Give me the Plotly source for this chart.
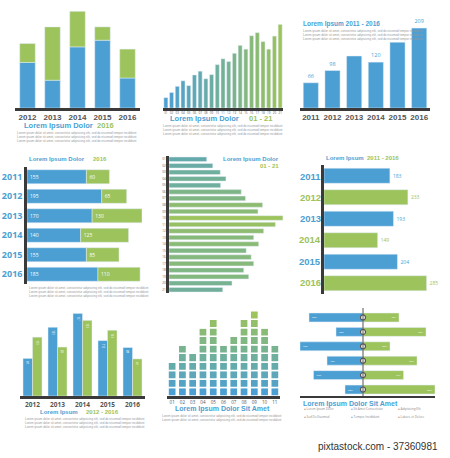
import plotly.graph_objects as go

BLUE = "#4b9fd3"
GREEN = "#9cc35c"
DARK = "#3a3a3a"
W, H = 450, 458

years5 = ["2012", "2013", "2014", "2015", "2016"]
years6 = ["2011", "2012", "2013", "2014", "2015", "2016"]
p1_blue = [41, 25, 55, 61, 27]
p1_green = [17, 48, 32, 12, 26]
p2_labels = ["%02d" % i for i in range(1, 22)]
p2_vals = [30, 45, 63, 79, 65, 96, 107, 85, 97, 126, 143, 135, 159, 182, 171, 210, 219, 193, 171, 209, 243]
p3_vals = [66, 98, 136, 120, 172, 209]
p3_text = ["66", "98", "", "120", "", "209"]
p4_blue = [155, 195, 170, 140, 155, 185]
p4_green = [60, 65, 130, 125, 85, 110]
p5_labels = ["%02d" % i for i in range(1, 22)]
p5_vals = [106, 123, 144, 160, 145, 203, 215, 263, 250, 320, 299, 266, 238, 252, 217, 231, 238, 210, 224, 177, 151]
p6_vals = [183, 233, 193, 149, 204, 285]
p7_blue = [76, 139, 167, 112, 98]
p7_green = [119, 99, 153, 133, 75]
p8_labels = ["%02d" % i for i in range(1, 12)]
p8_counts = [4, 6, 5, 8, 9, 6, 7, 9, 10, 8, 6]
p9_left = [60, 30, 70, 40, 55, 20]
p9_right = [40, 70, 30, 60, 45, 80]
p9_legend = ["Lorem Ipsum Dolor", "Sit Amet Consectetur", "Adipisicing Elit",
             "Sed Do Eiusmod", "Tempor Incididunt", "Labore et Dolore"]

FILL = "Lorem ipsum dolor sit amet, consectetur adipisicing elit, sed do eiusmod tempor incididunt"


def mix(t):
    a = (0x4b, 0x9f, 0xd3); b = (0x9c, 0xc3, 0x5c)
    return "rgb(%d,%d,%d)" % tuple(int(a[i] + (b[i] - a[i]) * t) for i in range(3))


fig = go.Figure()
layout = {}
ann = []
shapes = []


def px(x0, x1, y0, y1):
    return [x0 / W, x1 / W], [1 - y1 / H, 1 - y0 / H]


def axes(n, x0, x1, y0, y1, xkw=None, ykw=None):
    xd, yd = px(x0, x1, y0, y1)
    s = "" if n == 1 else str(n)
    xa = dict(domain=xd, anchor="y" + s, showgrid=False, zeroline=False, fixedrange=True)
    ya = dict(domain=yd, anchor="x" + s, showgrid=False, zeroline=False, fixedrange=True)
    xa.update(xkw or {}); ya.update(ykw or {})
    layout["xaxis" + s] = xa
    layout["yaxis" + s] = ya
    return "x" + s, "y" + s


def text(x, y, s, size=8, color=BLUE, anchor="center", bold=True):
    ann.append(dict(x=x / W, y=1 - y / H, xref="paper", yref="paper", text=("<b>%s</b>" % s) if bold else s,
                    showarrow=False, xanchor=anchor, yanchor="middle",
                    font=dict(size=size, color=color, family="Liberation Sans")))


def filler(x, y, n=3, anchor="center"):
    for i in range(n):
        text(x, y + i * 4.2, FILL, size=3, color="#999", anchor=anchor, bold=False)


botline = dict(showline=True, linecolor=DARK, linewidth=2.5, tickangle=0)
leftline = dict(showline=True, linecolor=DARK, linewidth=2.5)
tickf = dict(size=8, color="#555", family="Liberation Sans")

# Panel 1
xa, ya = axes(1, 15, 140, 8, 108,
              dict(botline, tickfont=tickf, ticks="", tickprefix="<b>", ticksuffix="</b>"),
              dict(visible=False, range=[0, 90]))
fig.add_bar(x=years5, y=p1_blue, marker_color=BLUE, xaxis=xa, yaxis=ya, width=0.62)
fig.add_bar(x=years5, y=p1_green, marker_color=GREEN, xaxis=xa, yaxis=ya, width=0.62)
text(58, 126, "Lorem Ipsum Dolor", 7.5, BLUE, "center")
text(105, 126, "2016", 7.5, GREEN, "center")
filler(77, 133, 3)

# Panel 2
xa, ya = axes(2, 163, 283, 22, 108,
              dict(botline, tickfont=dict(size=3, color="#555"), ticks=""),
              dict(visible=False, range=[0, 250]))
fig.add_bar(x=p2_labels, y=p2_vals, marker_color=[mix(i / 20) for i in range(21)],
            xaxis=xa, yaxis=ya, width=0.7)
text(204, 118, "Lorem Ipsum Dolor", 7.5, BLUE, "center")
text(260, 118, "01 - 21", 7.5, GREEN, "center")
filler(223, 126, 3)

# Panel 3
xa, ya = axes(3, 300, 430, 22, 108,
              dict(botline, tickfont=tickf, ticks="", tickprefix="<b>", ticksuffix="</b>"),
              dict(visible=False, range=[0, 225]))
fig.add_bar(x=years6, y=p3_vals, marker_color=BLUE, xaxis=xa, yaxis=ya, width=0.7,
            text=p3_text, textposition="outside", textfont=dict(size=5.5, color=BLUE), cliponaxis=False)
text(301, 24, "Lorem Ipsum 2011 - 2016", 6.5, BLUE, "left")
filler(301, 31, 3, "left")

# Panel 4
xa, ya = axes(4, 27, 142, 167, 284,
              dict(visible=False, range=[0, 300]),
              dict(leftline, autorange="reversed", tickfont=dict(size=9, color=BLUE), ticks="",
                   tickprefix="<b>", ticksuffix="</b>"))
fig.add_bar(y=years6, x=p4_blue, orientation="h", marker_color=BLUE, xaxis=xa, yaxis=ya, width=0.72,
            text=[str(v) for v in p4_blue], textposition="inside", insidetextanchor="start",
            textfont=dict(size=5, color="white"))
fig.add_bar(y=years6, x=p4_green, orientation="h", marker_color=GREEN, xaxis=xa, yaxis=ya, width=0.72,
            text=[str(v) for v in p4_green], textposition="inside", insidetextanchor="start",
            textfont=dict(size=5, color="white"))
text(27, 159, "Lorem Ipsum Dolor", 6, BLUE, "left")
text(91, 159, "2016", 6, GREEN, "left")
filler(27, 288, 3, "left")

# Panel 5
xa, ya = axes(5, 169, 290, 156, 293,
              dict(visible=False, range=[0, 340]),
              dict(leftline, autorange="reversed", tickfont=dict(size=3, color="#555"), ticks=""))
vmax = max(p5_vals)
fig.add_bar(y=p5_labels, x=p5_vals, orientation="h", marker_color=[mix(v / vmax) for v in p5_vals],
            xaxis=xa, yaxis=ya, width=0.7)
text(281, 159, "Lorem Ipsum Dolor", 6, BLUE, "right")
text(281, 166, "01 - 21", 6, GREEN, "right")

# Panel 6
xa, ya = axes(6, 324, 432, 165, 294,
              dict(visible=False, range=[0, 300]),
              dict(leftline, autorange="reversed", showticklabels=False))
cols6 = [BLUE if i % 2 == 0 else GREEN for i in range(6)]
fig.add_bar(y=years6, x=p6_vals, orientation="h", marker_color=cols6, xaxis=xa, yaxis=ya, width=0.7,
            text=[str(v) for v in p6_vals], textposition="outside", textfont=dict(size=5, color=cols6),
            cliponaxis=False)
for i, yy in enumerate(years6):
    text(310, 176 + i * 21.3, yy, 9.5, cols6[i], "center")
text(324, 158, "Lorem Ipsum", 6, BLUE, "left")
text(365, 158, "2011 - 2016", 6, GREEN, "left")

# Panel 7
xa, ya = axes(7, 20, 145, 307, 396,
              dict(botline, tickfont=dict(size=6.5, color="#555"), ticks="", tickprefix="<b>", ticksuffix="</b>"),
              dict(visible=False, range=[0, 180]))
fig.add_bar(x=years5, y=p7_blue, marker_color=BLUE, xaxis=xa, yaxis=ya, width=0.38, offset=-0.38,
            text=[str(v) for v in p7_blue], textposition="inside", insidetextanchor="end",
            textfont=dict(size=3, color="white"))
fig.add_bar(x=years5, y=p7_green, marker_color=GREEN, xaxis=xa, yaxis=ya, width=0.38, offset=0,
            text=[str(v) for v in p7_green], textposition="inside", insidetextanchor="end",
            textfont=dict(size=3, color="white"), base=0)
text(38, 412, "Lorem Ipsum", 6, BLUE, "left")
text(84, 412, "2012 - 2016", 6, GREEN, "left")
filler(85, 419, 3)

# Panel 8
xa, ya = axes(8, 167, 280, 309, 396,
              dict(botline, tickfont=dict(size=4.5, color="#555"), ticks=""),
              dict(visible=False, range=[0, 10.2]))
for lvl in range(10):
    ys = [1 if c > lvl else 0 for c in p8_counts]
    fig.add_bar(x=p8_labels, y=ys, marker_color=mix(lvl / 9), marker_line=dict(color="white", width=1.5),
                xaxis=xa, yaxis=ya, width=0.8)
text(222, 409, "Lorem Ipsum Dolor Sit Amet", 7, BLUE, "center")
filler(222, 416, 2)

# Panel 9
xa, ya = axes(9, 300, 435, 310, 397,
              dict(visible=False, range=[-70, 80]),
              dict(visible=False, autorange="reversed"))
rows = [str(i) for i in range(6)]
fig.add_bar(y=rows, x=[-v for v in p9_left], orientation="h", marker_color=BLUE, xaxis=xa, yaxis=ya,
            width=0.62, text=["%d%%" % v for v in p9_left], textposition="inside",
            insidetextanchor="end", textfont=dict(size=5, color="white"))
fig.add_bar(y=rows, x=p9_right, orientation="h", marker_color=GREEN, xaxis=xa, yaxis=ya,
            width=0.62, text=["%d%%" % v for v in p9_right], textposition="inside",
            insidetextanchor="end", textfont=dict(size=5, color="white"))
fig.add_scatter(x=[0] * 6, y=rows, mode="markers", xaxis=xa, yaxis=ya,
                marker=dict(size=5, color="white", line=dict(color="#555", width=1.2)))
shapes.append(dict(type="line", xref="x9", yref="paper", x0=0, x1=0,
                   y0=1 - 397 / H, y1=1 - 308 / H, line=dict(color="#555", width=1)))
shapes.append(dict(type="line", xref="paper", yref="paper", x0=300 / W, x1=435 / W,
                   y0=1 - 397 / H, y1=1 - 397 / H, line=dict(color=DARK, width=2)))
text(301, 404, "Lorem Ipsum Dolor Sit Amet", 7, BLUE, "left")
for i, s in enumerate(p9_legend):
    cx = 302 + (i % 3) * 47
    cy = 413 + (i // 3) * 7.5
    ann.append(dict(x=cx / W, y=1 - cy / H, xref="paper", yref="paper", text="● " + s, showarrow=False,
                    xanchor="left", font=dict(size=3, color="#888")))

text(440, 446, "pixtastock.com - 37360981", 10, "#333", "right", bold=False)

fig.update_layout(width=W, height=H, margin=dict(l=0, r=0, t=0, b=0), barmode="relative",
                  bargap=0.35, bargroupgap=0.05,
                  plot_bgcolor="white", paper_bgcolor="white", showlegend=False,
                  annotations=ann, shapes=shapes, **layout)
fig.write_html("out.html", config={"displayModeBar": False},
               post_script="document.body.style.margin='0';")
